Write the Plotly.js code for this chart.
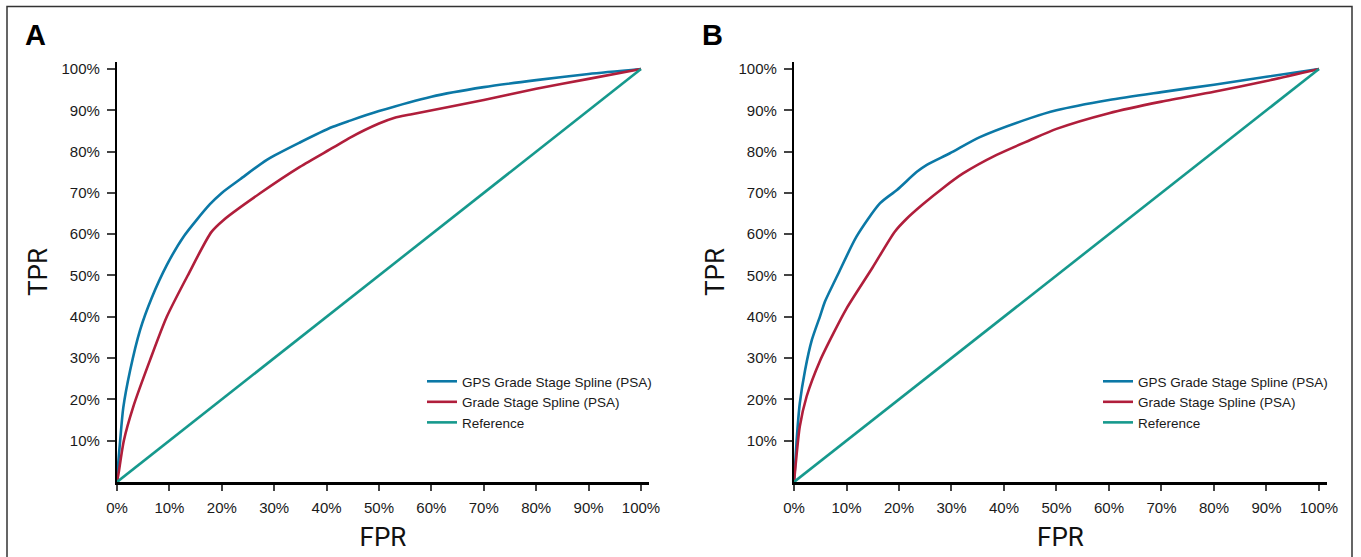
<!DOCTYPE html>
<html>
<head>
<meta charset="utf-8">
<script src="https://cdn.plot.ly/plotly-3.0.1.min.js"></script>
<style>html,body{margin:0;padding:0;background:#fff;}#chart{width:1361px;height:557px;}</style>
</head>
<body>
<div id="chart"></div>
<script>
// ---- Data ----
const seriesNames = ["GPS Grade Stage Spline (PSA)", "Grade Stage Spline (PSA)", "Reference"];
const panelLabels = ["A", "B"];
const tickVals = [0, 0.1, 0.2, 0.3, 0.4, 0.5, 0.6, 0.7, 0.8, 0.9, 1.0];
const yTickVals = [0.1, 0.2, 0.3, 0.4, 0.5, 0.6, 0.7, 0.8, 0.9, 1.0];

// Panel A
const fprA_gps = [0, 0.002, 0.006, 0.012, 0.025, 0.044, 0.066, 0.095, 0.127, 0.177, 0.2, 0.235, 0.286, 0.349, 0.412, 0.445, 0.5, 0.6, 0.7, 0.8, 0.9, 1.0];
const tprA_gps = [0, 0.04, 0.10, 0.18, 0.27, 0.368, 0.445, 0.525, 0.594, 0.672, 0.70, 0.733, 0.78, 0.822, 0.86, 0.875, 0.898, 0.933, 0.956, 0.973, 0.988, 1.0];
const fprA_gs = [0, 0.003, 0.013, 0.031, 0.063, 0.095, 0.135, 0.18, 0.203, 0.273, 0.349, 0.413, 0.445, 0.5, 0.53, 0.56, 0.7, 0.8, 0.9, 1.0];
const tprA_gs = [0, 0.021, 0.10, 0.182, 0.295, 0.40, 0.50, 0.605, 0.634, 0.699, 0.763, 0.81, 0.834, 0.868, 0.882, 0.89, 0.925, 0.952, 0.976, 1.0];

// Panel B
const fprB_gps = [0, 0.002, 0.005, 0.011, 0.021, 0.034, 0.05, 0.059, 0.075, 0.085, 0.119, 0.164, 0.196, 0.234, 0.253, 0.297, 0.354, 0.45, 0.5, 0.6, 0.7, 0.8, 0.9, 1.0];
const tprB_gps = [0, 0.037, 0.10, 0.19, 0.27, 0.344, 0.403, 0.437, 0.48, 0.506, 0.594, 0.675, 0.707, 0.751, 0.768, 0.796, 0.835, 0.881, 0.90, 0.925, 0.944, 0.962, 0.981, 1.0];
const fprB_gs = [0, 0.003, 0.011, 0.024, 0.05, 0.075, 0.10, 0.15, 0.192, 0.215, 0.246, 0.284, 0.322, 0.386, 0.45, 0.5, 0.6, 0.7, 0.8, 0.9, 1.0];
const tprB_gs = [0, 0.04, 0.134, 0.207, 0.295, 0.36, 0.42, 0.52, 0.606, 0.638, 0.673, 0.712, 0.747, 0.792, 0.828, 0.855, 0.893, 0.921, 0.945, 0.971, 1.0];

// Reference diagonal
const fprRef = [0, 1];
const tprRef = [0, 1];

// ---- Styling ----
const colors = ["#0b78a6", "#b01e3b", "#16998d"];
const W = 1361, H = 557;
const px = v => v / W;
const py = v => 1 - v / H;
const lw = 2.6;

function tr(x, y, i, xa, ya, leg) {
  return {x: x, y: y, type: "scatter", mode: "lines", name: seriesNames[i],
    line: {color: colors[i], width: lw, shape: i < 2 ? "spline" : "linear", smoothing: 0.7},
    xaxis: xa, yaxis: ya, legend: leg, hoverinfo: "x+y+name"};
}

const data = [
  tr(fprA_gps, tprA_gps, 0, "x", "y", "legend"),
  tr(fprA_gs, tprA_gs, 1, "x", "y", "legend"),
  tr(fprRef, tprRef, 2, "x", "y", "legend"),
  tr(fprB_gps, tprB_gps, 0, "x2", "y2", "legend2"),
  tr(fprB_gs, tprB_gs, 1, "x2", "y2", "legend2"),
  tr(fprRef, tprRef, 2, "x2", "y2", "legend2")
];

const tickFont = {family: "Liberation Sans, Arial, sans-serif", size: 15, color: "#1a1a1a"};
const titleFont = {family: "Roboto, Liberation Sans, sans-serif", size: 26, color: "#111"};

function xax(domain, anchor) {
  return {domain: domain, anchor: anchor, range: [0, 1.0153], showline: true, linecolor: "#000", linewidth: 3,
    showgrid: false, zeroline: false, ticks: "outside", ticklen: 6, tickwidth: 1.6, tickcolor: "#444",
    tickvals: tickVals, tickformat: ".0%", tickfont: tickFont, ticklabelstandoff: 4,
    title: {text: "FPR", font: titleFont, standoff: 13}, fixedrange: true};
}
function yax(domain, anchor) {
  return {domain: domain, anchor: anchor, range: [0, 1.0169], showline: true, linecolor: "#000", linewidth: 2.2,
    showgrid: false, zeroline: false, ticks: "outside", ticklen: 8, tickwidth: 1.6, tickcolor: "#444",
    tickvals: yTickVals, tickformat: ".0%", tickfont: tickFont, ticklabelstandoff: 4,
    title: {text: "TPR", font: titleFont, standoff: 6}, fixedrange: true};
}

const yDom = [py(482), py(62)];
const legFont = {family: "Liberation Sans, Arial, sans-serif", size: 13.5, color: "#1a1a1a"};
function leg(xpix) {
  return {x: px(xpix), y: py(366), xanchor: "left", yanchor: "top", bgcolor: "rgba(0,0,0,0)",
    font: legFont, tracegroupgap: 0, itemclick: false, itemdoubleclick: false};
}

const layout = {
  width: W, height: H,
  margin: {l: 0, r: 0, t: 0, b: 0},
  paper_bgcolor: "#fff", plot_bgcolor: "#fff",
  showlegend: true,
  xaxis: xax([px(117), px(649)], "y"),
  yaxis: yax(yDom, "x"),
  xaxis2: xax([px(794), px(1327)], "y2"),
  yaxis2: yax(yDom, "x2"),
  legend: leg(422),
  legend2: leg(1098),
  annotations: [
    {text: "<b>" + panelLabels[0] + "</b>", x: px(23), y: py(35), xref: "paper", yref: "paper", xanchor: "left", yanchor: "middle", showarrow: false, font: {family: "Liberation Sans, Arial, sans-serif", size: 29, color: "#000"}},
    {text: "<b>" + panelLabels[1] + "</b>", x: px(700), y: py(35), xref: "paper", yref: "paper", xanchor: "left", yanchor: "middle", showarrow: false, font: {family: "Liberation Sans, Arial, sans-serif", size: 29, color: "#000"}}
  ],
  shapes: [
    {type: "rect", xref: "paper", yref: "paper", x0: px(7), x1: px(1352), y0: py(570), y1: py(6.5), line: {color: "#333", width: 1.5}, fillcolor: "rgba(0,0,0,0)"}
  ]
};

Plotly.newPlot("chart", data, layout, {displayModeBar: false});
</script>
</body>
</html>
